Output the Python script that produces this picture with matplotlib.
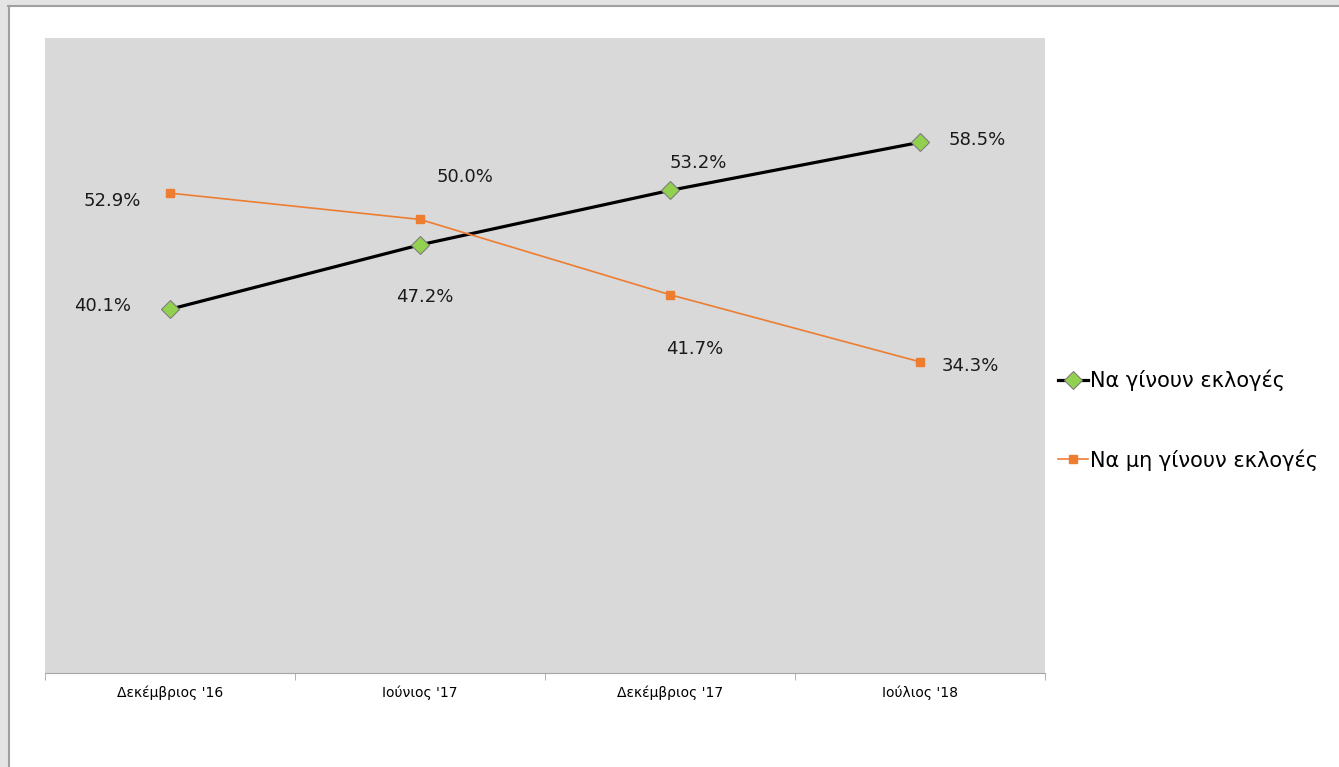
import matplotlib.pyplot as plt
from matplotlib.patches import Rectangle
from matplotlib.lines import Line2D

plt.rcParams['font.family'] = ['DejaVu Sans']

periods = ["Δεκέμβριος '16", "Ιούνιος '17", "Δεκέμβριος '17", "Ιούλιος '18"]
yes_vals = [40.1, 47.2, 53.2, 58.5]
no_vals = [52.9, 50.0, 41.7, 34.3]
yes_name = "Να γίνουν εκλογές"
no_name = "Να μη γίνουν εκλογές"

fig = plt.figure(figsize=(13.39, 7.67), dpi=100)

# window frame (grey strip top and left)
fig.patches.append(Rectangle((0, 1 - 5 / 767), 1, 5 / 767, transform=fig.transFigure,
                             facecolor='#e4e4e4', edgecolor='none', zorder=0))
fig.patches.append(Rectangle((0, 0), 8 / 1339, 1, transform=fig.transFigure,
                             facecolor='#e4e4e4', edgecolor='none', zorder=0))
fig.lines.append(Line2D([8 / 1339, 1], [1 - 6 / 767, 1 - 6 / 767], transform=fig.transFigure,
                        color='#a0a0a0', lw=1.5))
fig.lines.append(Line2D([8.5 / 1339, 8.5 / 1339], [0, 1 - 6 / 767], transform=fig.transFigure,
                        color='#a0a0a0', lw=1.5))

ax = fig.add_axes([45 / 1339, (767 - 673) / 767, 1000 / 1339, 635 / 767])
ax.set_facecolor('#d9d9d9')
x = list(range(len(periods)))

ax.plot(x, yes_vals, color='black', lw=2.3, marker='D', markersize=9,
        markerfacecolor='#92d050', markeredgecolor='#7f7f7f', markeredgewidth=0.8,
        label=yes_name, zorder=3)
ax.plot(x, no_vals, color='#ed7d31', lw=1.2, marker='s', markersize=6,
        markerfacecolor='#ed7d31', markeredgecolor='#ed7d31',
        label=no_name, zorder=3)

ax.set_xlim(-0.5, 3.5)
ax.set_ylim(0, 70)

# data labels
yes_off = [(-67, 3), (5, -52), (28, 27), (57, 2)]
no_off = [(-58, -8), (45, 42), (25, -54), (50, -4)]
for i, v in enumerate(yes_vals):
    ax.annotate("%.1f%%" % v, (i, v), xytext=yes_off[i], textcoords='offset pixels',
                ha='center', va='center', fontsize=13, color='#1a1a1a')
for i, v in enumerate(no_vals):
    ax.annotate("%.1f%%" % v, (i, v), xytext=no_off[i], textcoords='offset pixels',
                ha='center', va='center', fontsize=13, color='#1a1a1a')

ax.set_xticks(x)
ax.set_xticklabels(periods, fontsize=10)
ax.set_xticks([-0.5, 0.5, 1.5, 2.5, 3.5], minor=True)
ax.tick_params(axis='x', which='major', length=0, pad=9)
ax.tick_params(axis='x', which='minor', length=5, color='#a6a6a6')
ax.set_yticks([])
for s in ['top', 'left', 'right']:
    ax.spines[s].set_visible(False)
ax.spines['bottom'].set_color('#a6a6a6')

fig.legend(loc='upper left', bbox_to_anchor=(1050 / 1339, 1 - 361 / 767),
           frameon=False, fontsize=15, handlelength=1.4, handletextpad=0.1,
           labelspacing=2.8, borderaxespad=0)

fig.savefig('out.png', dpi=100)
